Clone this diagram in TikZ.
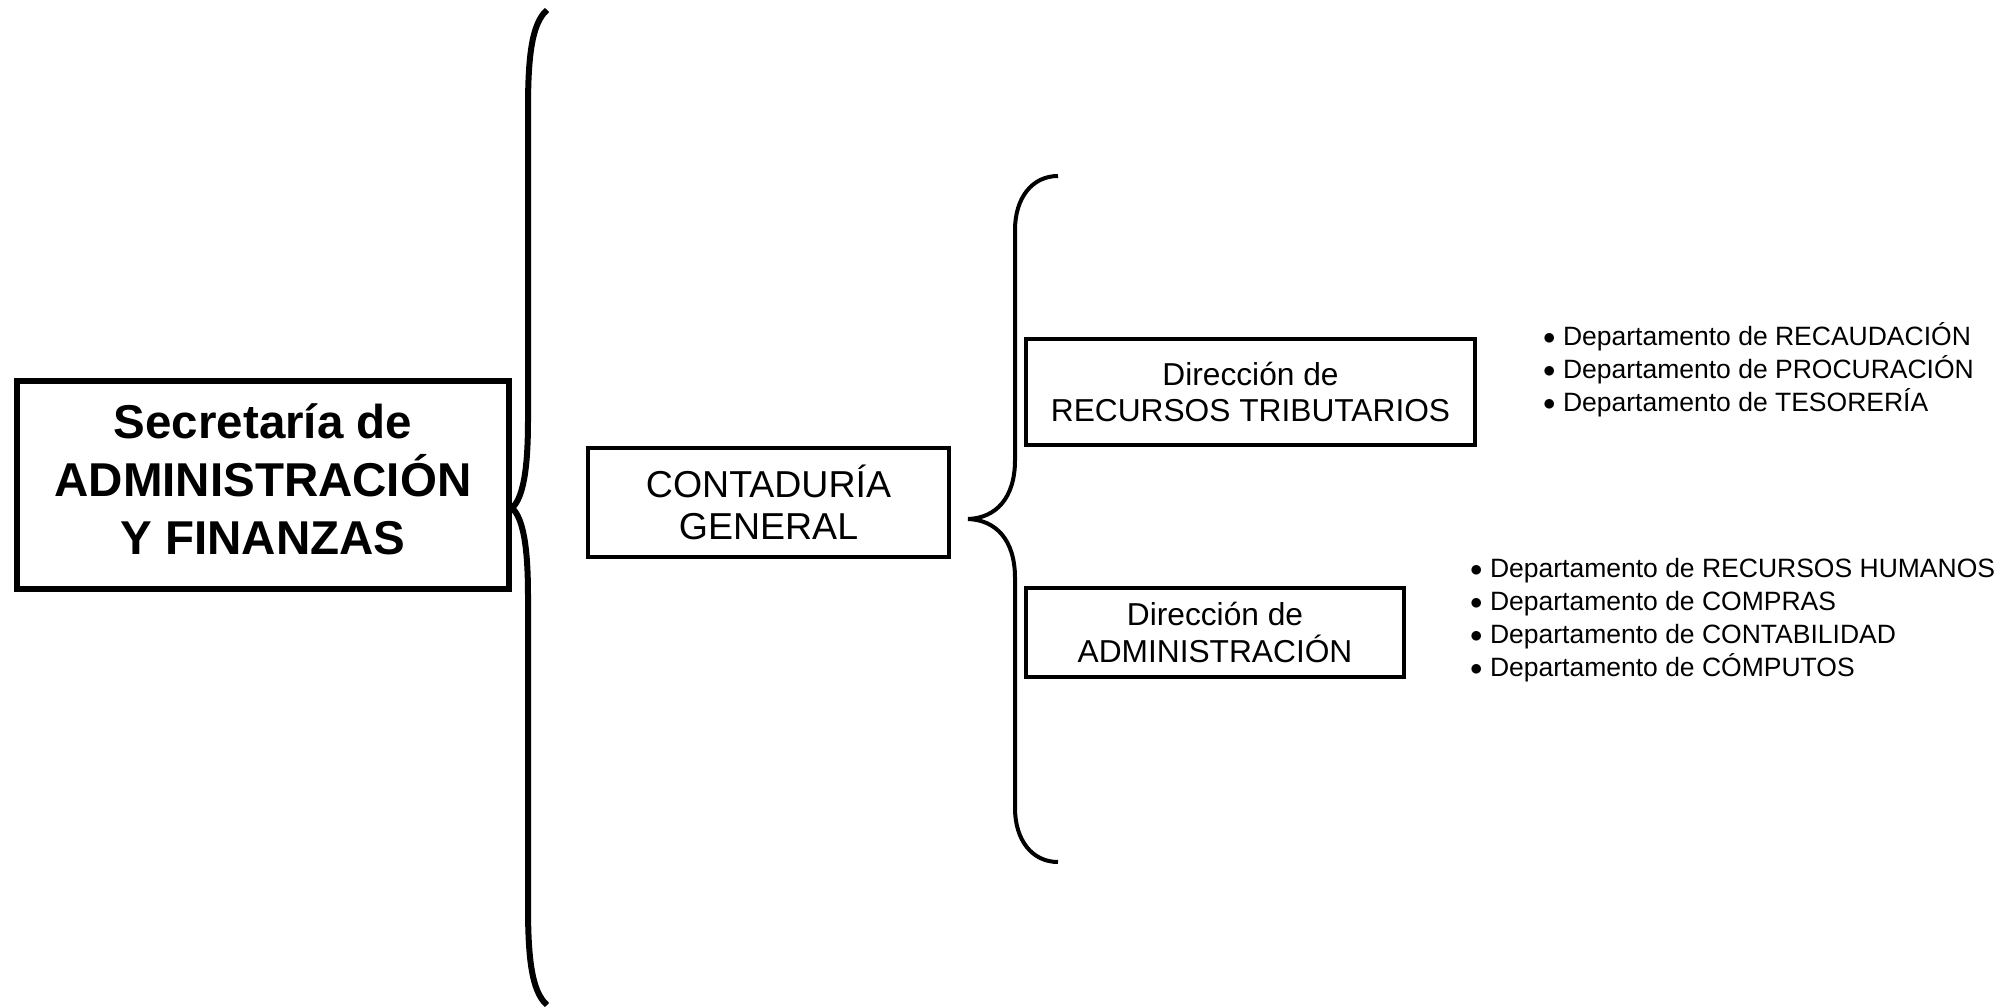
\documentclass[tikz,border=0pt]{standalone}
\usepackage{fontspec}
\setmainfont{Liberation Sans}
\newcommand{\blt}{\raisebox{0.5pt}{$\bullet$}}
\begin{document}
\begin{tikzpicture}[x=1pt,y=-1pt,
  mainbox/.style={draw,line width=5.5pt,minimum width=492pt,minimum height=208pt,align=center,inner sep=0pt,
    font=\fontsize{47.5}{58}\selectfont\bfseries},
  subbox/.style={draw,line width=3.5pt,align=center,inner sep=0pt},
  deplist/.style={anchor=west,align=left,inner sep=0pt,font=\fontsize{26.5}{33}\selectfont},
  bigbrace/.style={line width=6pt},
  smallbrace/.style={line width=4pt}]
\useasboundingbox (0,0) rectangle (2005,1008);
% boxes
\draw[line width=5.5pt] (17,381) rectangle (509,589);
\node[align=center,inner sep=0pt,font=\fontsize{47.5}{58}\selectfont\bfseries] (main) at (263,479) {Secretaría de\\ADMINISTRACIÓN\\Y FINANZAS};
\node[subbox,minimum width=361pt,minimum height=109pt,font=\fontsize{37.5}{42}\selectfont] (cont) at (768.5,502.5) {CONTADURÍA\\GENERAL};
\node[subbox,minimum width=449pt,minimum height=106pt,font=\fontsize{31.7}{36}\selectfont] (rt) at (1250.5,392) {Dirección de\\RECURSOS TRIBUTARIOS};
\node[subbox,minimum width=378pt,minimum height=89pt,font=\fontsize{31.7}{37}\selectfont] (adm) at (1215,632.5) {Dirección de\\ADMINISTRACIÓN};
% lists
\node[deplist] (lrt) at (1543,369.5) {\blt{} Departamento de RECAUDACIÓN\\\blt{} Departamento de PROCURACIÓN\\\blt{} Departamento de TESORERÍA};
\node[deplist] (ladm) at (1470,620) {\blt{} Departamento de RECURSOS HUMANOS\\\blt{} Departamento de COMPRAS\\\blt{} Departamento de CONTABILIDAD\\\blt{} Departamento de CÓMPUTOS};
% braces
\coordinate (btop) at (547,10);
\coordinate (btip) at (512,508);
\coordinate (bbot) at (547,1005);
\draw[bigbrace] (btop) .. controls (531,24) and (528,60) .. (528,110) -- (528,420)
  .. controls (528,470) and (523,498) .. (btip)
  .. controls (523,518) and (528,546) .. (528,596) -- (528,905)
  .. controls (528,955) and (531,991) .. (bbot);
\coordinate (stop) at (1058,176);
\coordinate (stip) at (968,519);
\coordinate (sbot) at (1058,862);
\draw[smallbrace] (stop) .. controls (1032,176) and (1015,198) .. (1015,230) -- (1015,460)
  .. controls (1015,498) and (996,518) .. (stip)
  .. controls (996,520) and (1015,540) .. (1015,578) -- (1015,808)
  .. controls (1015,840) and (1032,862) .. (sbot);
\end{tikzpicture}
\end{document}
